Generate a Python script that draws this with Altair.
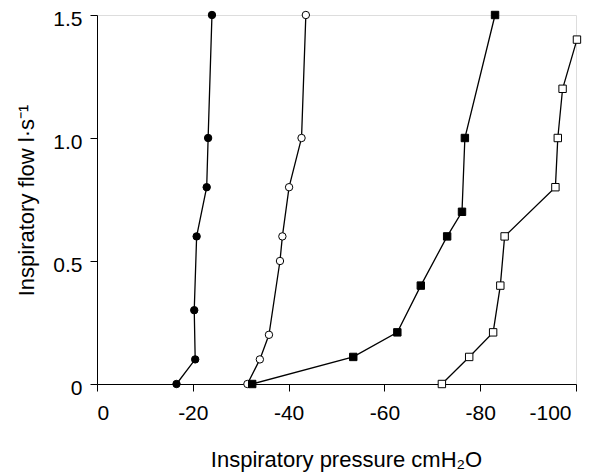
import altair as alt
import pandas as pd

# Series: pressure (cmH2O) and flow (l/s)
fc_p = [-16.6, -20.5, -20.3, -20.8, -22.9, -23.2, -24.0]
fc_f = [0.0, 0.1, 0.3, 0.6, 0.8, 1.0, 1.5]

oc_p = [-31.4, -34.0, -35.9, -38.2, -38.7, -40.1, -42.7, -43.6]
oc_f = [0.0, 0.1, 0.2, 0.5, 0.6, 0.8, 1.0, 1.5]

fs_p = [-32.4, -53.5, -62.7, -67.6, -73.1, -76.2, -76.8, -83.1]
fs_f = [0.0, 0.11, 0.21, 0.4, 0.6, 0.7, 1.0, 1.5]

os_p = [-72.0, -77.7, -82.7, -84.2, -85.1, -95.7, -96.2, -97.2, -100.2]
os_f = [0.0, 0.11, 0.21, 0.4, 0.6, 0.8, 1.0, 1.2, 1.4]

series_names = ["filled circle", "open circle", "filled square", "open square"]
x_ticks = [0, -20, -40, -60, -80, -100]
y_ticks = [0, 0.5, 1.0, 1.5]

rows = []
for i, (name, ps, fs) in enumerate(zip(series_names, [fc_p, oc_p, fs_p, os_p], [fc_f, oc_f, fs_f, os_f])):
    for j, (p, f) in enumerate(zip(ps, fs)):
        rows.append({"series": name, "pressure": p, "flow": f, "idx": i * 100 + j})
df = pd.DataFrame(rows)

FONT = "Liberation Sans"

x_enc = alt.X(
    "pressure:Q",
    scale=alt.Scale(domain=[0, -100], nice=False, zero=False),
    axis=alt.Axis(
        values=x_ticks,
        title="Inspiratory pressure  cmH₂O",
        labelExpr="datum.value == 0 ? '0' : '-' + format(-datum.value, 'd')",
        grid=False,
        domainColor="black",
        tickColor="black",
        tickSize=7,
        labelPadding=11,
        labelOffset={"condition": {"test": "datum.value == -100", "value": -5}, "value": 0},
        labelFontSize=21,
        labelFont=FONT,
        labelColor="black",
        titleFont=FONT,
        titleFontSize=22,
        titleFontWeight="normal",
        titleColor="black",
        titleX=249,
        titleY=82,
        titleBaseline="alphabetic",
    ),
)
y_enc = alt.Y(
    "flow:Q",
    scale=alt.Scale(domain=[0, 1.5], nice=False),
    axis=alt.Axis(
        values=y_ticks,
        title="Inspiratory flow  l·s⁻¹",
        labelExpr="datum.value == 0 ? '0' : format(datum.value, '.1f')",
        grid=False,
        domainColor="black",
        tickColor="black",
        tickSize=7,
        labelPadding=8,
        labelOffset=4,
        labelFontSize=21,
        labelFont=FONT,
        labelColor="black",
        titleFont=FONT,
        titleFontSize=22,
        titleFontWeight="normal",
        titleColor="black",
        titleX=-64,
        titleY=185,
        titleAngle=270,
        titleBaseline="alphabetic",
    ),
)

lines = alt.Chart(df).mark_line(color="black", strokeWidth=1.3).encode(
    x=x_enc, y=y_enc, detail="series:N", order="flow:Q"
)

points = alt.Chart(df).mark_point(filled=True, stroke="black", strokeWidth=1, opacity=1).encode(
    x=x_enc,
    y=y_enc,
    shape=alt.Shape("series:N", scale=alt.Scale(domain=series_names, range=["circle", "circle", "square", "square"]), legend=None),
    fill=alt.Fill("series:N", scale=alt.Scale(domain=series_names, range=["black", "white", "black", "white"]), legend=None),
    size=alt.Size("series:N", scale=alt.Scale(domain=series_names, range=[55, 55, 50, 50]), legend=None),
    order="idx:Q",
)

chart = alt.layer(lines, points).properties(
    width=479,
    height=369,
    autosize=alt.AutoSizeParams(type="none"),
    padding={"left": 89, "top": 7, "right": 16, "bottom": 88},
).configure_view(stroke=None).configure(background="white")

chart.save("out.html", embed_options={"renderer": "svg", "actions": False})
